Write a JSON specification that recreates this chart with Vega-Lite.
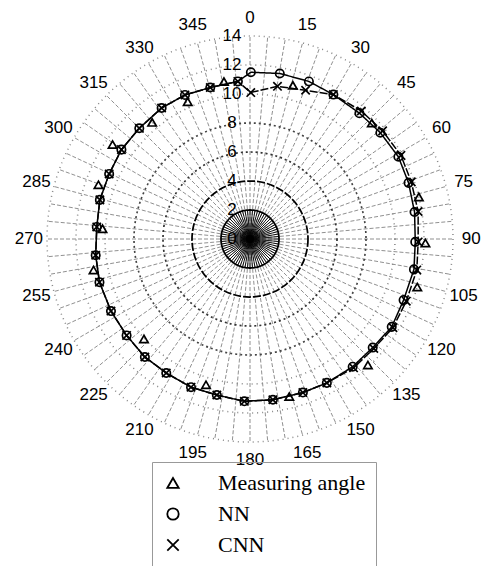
{
  "$schema": "https://vega.github.io/schema/vega-lite/v6.json",
  "width": 406,
  "height": 406,
  "autosize": {"type": "none"},
  "padding": {"left": 47, "top": 36, "right": 34, "bottom": 124},
  "background": "white",
  "config": {"view": {"stroke": null}},
  "datasets": {
    "pts": [
      {"s": "Measuring angle", "a": 350.6, "r": 11.0},
      {"s": "Measuring angle", "a": 15.6, "r": 11.0},
      {"s": "Measuring angle", "a": 46.4, "r": 11.6},
      {"s": "Measuring angle", "a": 76, "r": 12.0},
      {"s": "Measuring angle", "a": 91.3, "r": 12.1},
      {"s": "Measuring angle", "a": 106, "r": 12.0},
      {"s": "Measuring angle", "a": 136.9, "r": 11.9},
      {"s": "Measuring angle", "a": 166, "r": 11.2},
      {"s": "Measuring angle", "a": 196.8, "r": 10.5},
      {"s": "Measuring angle", "a": 226.7, "r": 10.05},
      {"s": "Measuring angle", "a": 258.8, "r": 11.0},
      {"s": "Measuring angle", "a": 274, "r": 10.2},
      {"s": "Measuring angle", "a": 289.7, "r": 11.1},
      {"s": "Measuring angle", "a": 304.5, "r": 11.5},
      {"s": "Measuring angle", "a": 320, "r": 10.5},
      {"s": "Measuring angle", "a": 335.6, "r": 10.4},
      {"s": "NN", "a": 0.3, "r": 11.5},
      {"s": "NN", "a": 10.2, "r": 11.6},
      {"s": "NN", "a": 20.5, "r": 11.6},
      {"s": "NN", "a": 30, "r": 11.5},
      {"s": "NN", "a": 41, "r": 11.5},
      {"s": "NN", "a": 50.8, "r": 11.6},
      {"s": "NN", "a": 61, "r": 11.7},
      {"s": "NN", "a": 70.5, "r": 11.6},
      {"s": "NN", "a": 80.7, "r": 11.5},
      {"s": "NN", "a": 91, "r": 11.4},
      {"s": "NN", "a": 100.5, "r": 11.5},
      {"s": "NN", "a": 111.7, "r": 11.4},
      {"s": "NN", "a": 121.8, "r": 11.5},
      {"s": "NN", "a": 131.5, "r": 11.3},
      {"s": "NN", "a": 141.2, "r": 11.3},
      {"s": "NN", "a": 151.9, "r": 11.25},
      {"s": "NN", "a": 161, "r": 11.2},
      {"s": "NN", "a": 171.9, "r": 11.2},
      {"s": "NN", "a": 182, "r": 11.2},
      {"s": "NN", "a": 192, "r": 11.0},
      {"s": "NN", "a": 201.7, "r": 11.0},
      {"s": "NN", "a": 212, "r": 10.9},
      {"s": "NN", "a": 221.7, "r": 10.9},
      {"s": "NN", "a": 232, "r": 10.8},
      {"s": "NN", "a": 242.6, "r": 10.8},
      {"s": "NN", "a": 254, "r": 10.8},
      {"s": "NN", "a": 264, "r": 10.7},
      {"s": "NN", "a": 274.5, "r": 10.6},
      {"s": "NN", "a": 284.6, "r": 10.7},
      {"s": "NN", "a": 294.8, "r": 10.7},
      {"s": "NN", "a": 304.8, "r": 10.8},
      {"s": "NN", "a": 315, "r": 10.8},
      {"s": "NN", "a": 326, "r": 10.9},
      {"s": "NN", "a": 335.7, "r": 10.9},
      {"s": "NN", "a": 345.3, "r": 10.8},
      {"s": "NN", "a": 355.6, "r": 10.9},
      {"s": "CNN", "a": 0.3, "r": 10.1},
      {"s": "CNN", "a": 10.2, "r": 10.7},
      {"s": "CNN", "a": 20.5, "r": 10.95},
      {"s": "CNN", "a": 30, "r": 11.5},
      {"s": "CNN", "a": 41, "r": 11.7},
      {"s": "CNN", "a": 50.8, "r": 11.8},
      {"s": "CNN", "a": 61, "r": 11.9},
      {"s": "CNN", "a": 70.5, "r": 11.8},
      {"s": "CNN", "a": 80.7, "r": 11.75},
      {"s": "CNN", "a": 91, "r": 11.6},
      {"s": "CNN", "a": 100.5, "r": 11.7},
      {"s": "CNN", "a": 111.7, "r": 11.6},
      {"s": "CNN", "a": 121.8, "r": 11.6},
      {"s": "CNN", "a": 131.5, "r": 11.4},
      {"s": "CNN", "a": 141.2, "r": 11.4},
      {"s": "CNN", "a": 151.9, "r": 11.25},
      {"s": "CNN", "a": 161, "r": 11.2},
      {"s": "CNN", "a": 171.9, "r": 11.2},
      {"s": "CNN", "a": 182, "r": 11.2},
      {"s": "CNN", "a": 192, "r": 11.0},
      {"s": "CNN", "a": 201.7, "r": 11.0},
      {"s": "CNN", "a": 212, "r": 10.9},
      {"s": "CNN", "a": 221.7, "r": 10.9},
      {"s": "CNN", "a": 232, "r": 10.8},
      {"s": "CNN", "a": 242.6, "r": 10.8},
      {"s": "CNN", "a": 254, "r": 10.8},
      {"s": "CNN", "a": 264, "r": 10.7},
      {"s": "CNN", "a": 274.5, "r": 10.6},
      {"s": "CNN", "a": 284.6, "r": 10.7},
      {"s": "CNN", "a": 294.8, "r": 10.7},
      {"s": "CNN", "a": 304.8, "r": 10.8},
      {"s": "CNN", "a": 315, "r": 10.8},
      {"s": "CNN", "a": 326, "r": 10.9},
      {"s": "CNN", "a": 335.7, "r": 10.9},
      {"s": "CNN", "a": 345.3, "r": 10.8},
      {"s": "CNN", "a": 355.6, "r": 10.9}
    ],
    "rings": [{"r": 2}, {"r": 4}, {"r": 6}, {"r": 8}, {"r": 10}, {"r": 12}, {"r": 14}],
    "spokes": [
      {"a": 0}, {"a": 5}, {"a": 10}, {"a": 15}, {"a": 20}, {"a": 25}, {"a": 30}, {"a": 35}, {"a": 40}, {"a": 45}, {"a": 50}, {"a": 55},
      {"a": 60}, {"a": 65}, {"a": 70}, {"a": 75}, {"a": 80}, {"a": 85}, {"a": 90}, {"a": 95}, {"a": 100}, {"a": 105}, {"a": 110}, {"a": 115},
      {"a": 120}, {"a": 125}, {"a": 130}, {"a": 135}, {"a": 140}, {"a": 145}, {"a": 150}, {"a": 155}, {"a": 160}, {"a": 165}, {"a": 170}, {"a": 175},
      {"a": 180}, {"a": 185}, {"a": 190}, {"a": 195}, {"a": 200}, {"a": 205}, {"a": 210}, {"a": 215}, {"a": 220}, {"a": 225}, {"a": 230}, {"a": 235},
      {"a": 240}, {"a": 245}, {"a": 250}, {"a": 255}, {"a": 260}, {"a": 265}, {"a": 270}, {"a": 275}, {"a": 280}, {"a": 285}, {"a": 290}, {"a": 295},
      {"a": 300}, {"a": 305}, {"a": 310}, {"a": 315}, {"a": 320}, {"a": 325}, {"a": 330}, {"a": 335}, {"a": 340}, {"a": 345}, {"a": 350}, {"a": 355}
    ],
    "alabels": [
      {"label": "0", "a": 0}, {"label": "15", "a": 15}, {"label": "30", "a": 30}, {"label": "45", "a": 45},
      {"label": "60", "a": 60}, {"label": "75", "a": 75}, {"label": "90", "a": 90}, {"label": "105", "a": 105},
      {"label": "120", "a": 120}, {"label": "135", "a": 135}, {"label": "150", "a": 150}, {"label": "165", "a": 165},
      {"label": "180", "a": 180}, {"label": "195", "a": 195}, {"label": "210", "a": 210}, {"label": "225", "a": 225},
      {"label": "240", "a": 240}, {"label": "255", "a": 255}, {"label": "270", "a": 270}, {"label": "285", "a": 285},
      {"label": "300", "a": 300}, {"label": "315", "a": 315}, {"label": "330", "a": 330}, {"label": "345", "a": 345}
    ],
    "rlabels": [{"v": 0}, {"v": 2}, {"v": 4}, {"v": 6}, {"v": 8}, {"v": 10}, {"v": 12}, {"v": 14}]
  },
  "layer": [
    {
      "data": {"name": "spokes"},
      "transform": [
        {"calculate": "0", "as": "x0"},
        {"calculate": "14*sin(datum.a*PI/180)", "as": "x"},
        {"calculate": "14*cos(datum.a*PI/180)", "as": "y"}
      ],
      "mark": {"type": "rule", "stroke": "#444", "strokeWidth": 0.6, "strokeDash": [4, 2]},
      "encoding": {
        "x": {"field": "x0", "type": "quantitative", "scale": {"domain": [-14, 14], "nice": false, "zero": false}, "axis": null},
        "y": {"field": "x0", "type": "quantitative", "scale": {"domain": [-14, 14], "nice": false, "zero": false}, "axis": null},
        "x2": {"field": "x"},
        "y2": {"field": "y"}
      }
    },
    {
      "data": {"name": "spokes"},
      "transform": [
        {"calculate": "0", "as": "x0"},
        {"calculate": "2*sin(datum.a*PI/180)", "as": "x"},
        {"calculate": "2*cos(datum.a*PI/180)", "as": "y"}
      ],
      "mark": {"type": "rule", "stroke": "#000", "strokeWidth": 0.9},
      "encoding": {
        "x": {"field": "x0", "type": "quantitative", "scale": {"domain": [-14, 14], "nice": false, "zero": false}, "axis": null},
        "y": {"field": "x0", "type": "quantitative", "scale": {"domain": [-14, 14], "nice": false, "zero": false}, "axis": null},
        "x2": {"field": "x"},
        "y2": {"field": "y"}
      }
    },
    {
      "data": {"name": "rings"},
      "transform": [{"calculate": "0", "as": "x0"}],
      "mark": {"type": "point", "shape": "circle", "filled": false, "color": "black", "opacity": 1},
      "encoding": {
        "x": {"field": "x0", "type": "quantitative", "scale": {"domain": [-14, 14], "nice": false, "zero": false}, "axis": null},
        "y": {"field": "x0", "type": "quantitative", "scale": {"domain": [-14, 14], "nice": false, "zero": false}, "axis": null},
        "size": {"field": "r", "type": "quantitative", "scale": {"type": "pow", "exponent": 2, "domain": [0, 14], "range": [0, 164836], "zero": true}, "legend": null},
        "strokeDash": {"field": "r", "type": "ordinal", "scale": {"domain": [2, 4, 6, 8, 10, 12, 14], "range": [[1, 0], [8, 2], [2, 3], [2, 3], [1, 4], [1, 4], [1, 4]]}, "legend": null},
        "strokeWidth": {"field": "r", "type": "ordinal", "scale": {"domain": [2, 4, 6, 8, 10, 12, 14], "range": [1.8, 1.5, 1, 1, 0.8, 0.8, 0.8]}, "legend": null},
        "stroke": {"field": "r", "type": "ordinal", "scale": {"domain": [2, 4, 6, 8, 10, 12, 14], "range": ["#000000", "#000000", "#333333", "#444444", "#888888", "#888888", "#888888"]}, "legend": null}
      }
    },
    {
      "data": {"name": "pts"},
      "transform": [
        {"filter": "datum.s != 'Measuring angle'"},
        {"calculate": "datum.r*sin(datum.a*PI/180)", "as": "x"},
        {"calculate": "datum.r*cos(datum.a*PI/180)", "as": "y"}
      ],
      "mark": {"type": "line", "interpolate": "linear-closed", "color": "black", "strokeWidth": 1.5},
      "encoding": {
        "x": {"field": "x", "type": "quantitative", "scale": {"domain": [-14, 14], "nice": false, "zero": false}, "axis": null},
        "y": {"field": "y", "type": "quantitative", "scale": {"domain": [-14, 14], "nice": false, "zero": false}, "axis": null},
        "detail": {"field": "s", "type": "nominal"},
        "order": {"field": "a", "type": "quantitative"},
        "strokeDash": {"field": "s", "type": "nominal", "scale": {"domain": ["NN", "CNN"], "range": [[6, 4], [10, 3, 2, 3]]}, "legend": null}
      }
    },
    {
      "data": {"name": "pts"},
      "transform": [
        {"calculate": "datum.r*sin(datum.a*PI/180)", "as": "x"},
        {"calculate": "datum.r*cos(datum.a*PI/180)", "as": "y"}
      ],
      "mark": {"type": "point", "filled": false, "color": "black", "strokeWidth": 1.7, "size": 70, "opacity": 1},
      "encoding": {
        "x": {"field": "x", "type": "quantitative", "scale": {"domain": [-14, 14], "nice": false, "zero": false}, "axis": null},
        "y": {"field": "y", "type": "quantitative", "scale": {"domain": [-14, 14], "nice": false, "zero": false}, "axis": null},
        "shape": {
          "field": "s", "type": "nominal",
          "scale": {"domain": ["Measuring angle", "NN", "CNN"], "range": ["triangle-up", "circle", "M-1,-1L1,1M-1,1L1,-1"]},
          "legend": {
            "title": null, "orient": "none", "legendX": 105, "legendY": 426,
            "strokeColor": "#999", "padding": 10,
            "labelFont": "Liberation Serif", "labelFontSize": 22, "labelColor": "black", "labelLimit": 300,
            "symbolSize": 130, "symbolStrokeWidth": 1.8, "symbolStrokeColor": "black", "symbolFillColor": "transparent",
            "labelOffset": 34, "rowPadding": 9
          }
        }
      }
    },
    {
      "data": {"name": "alabels"},
      "transform": [
        {"calculate": "15.25*sin(datum.a*PI/180)", "as": "x"},
        {"calculate": "15.25*cos(datum.a*PI/180)", "as": "y"}
      ],
      "mark": {"type": "text", "font": "Liberation Sans", "fontSize": 17, "color": "black", "align": "center", "baseline": "middle"},
      "encoding": {
        "x": {"field": "x", "type": "quantitative", "scale": {"domain": [-14, 14], "nice": false, "zero": false}, "axis": null},
        "y": {"field": "y", "type": "quantitative", "scale": {"domain": [-14, 14], "nice": false, "zero": false}, "axis": null},
        "text": {"field": "label", "type": "nominal"}
      }
    },
    {
      "data": {"name": "rlabels"},
      "transform": [{"calculate": "0", "as": "x0"}],
      "mark": {"type": "text", "font": "Liberation Sans", "fontSize": 17, "color": "black", "align": "center", "baseline": "middle", "dx": -18},
      "encoding": {
        "x": {"field": "x0", "type": "quantitative", "scale": {"domain": [-14, 14], "nice": false, "zero": false}, "axis": null},
        "y": {"field": "v", "type": "quantitative", "scale": {"domain": [-14, 14], "nice": false, "zero": false}, "axis": null},
        "text": {"field": "v", "type": "quantitative"}
      }
    }
  ]
}
